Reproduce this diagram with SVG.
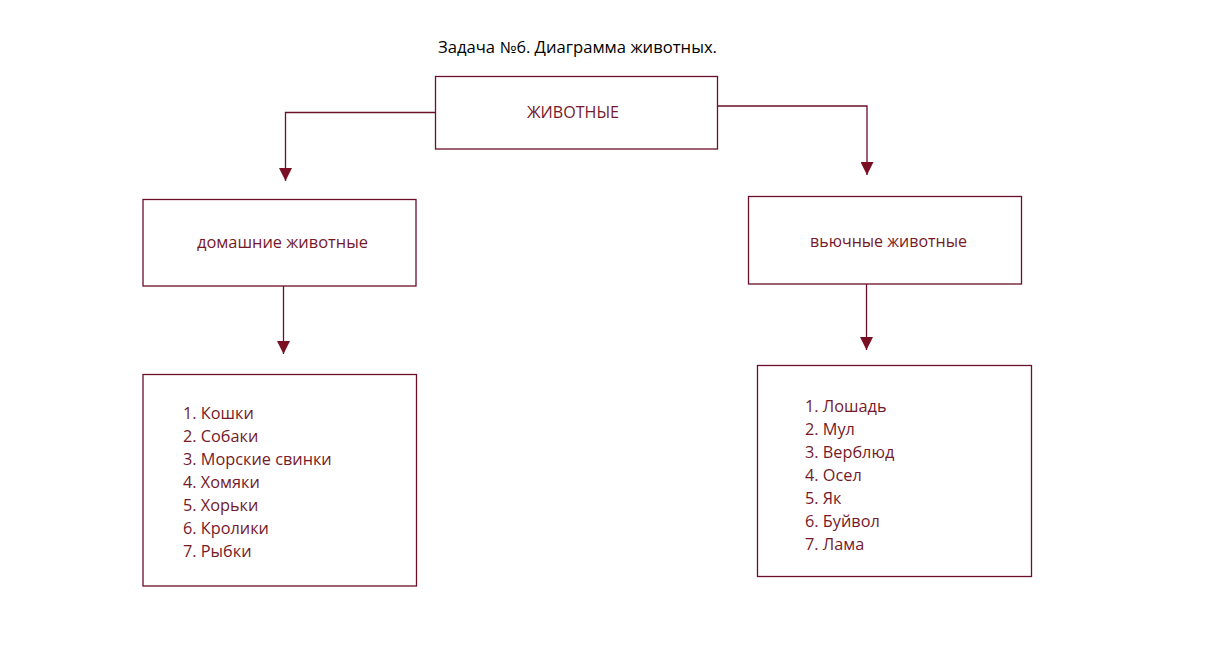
<svg xmlns="http://www.w3.org/2000/svg" width="1213" height="652" viewBox="0 0 1213 652">
<style>
.box{fill:#fff;stroke:#6a1028;stroke-width:1.3}
.conn{fill:none;stroke:#6a1028;stroke-width:1.3}
.t{font-family:"Open Sans","Noto Sans","Liberation Sans",sans-serif;font-size:15.5px;fill:#75192a}
.l{font-family:"Open Sans","Noto Sans","Liberation Sans",sans-serif;font-size:16.3px;fill:#75192a}
.title{font-family:"Open Sans","Noto Sans","Liberation Sans",sans-serif;font-size:15.5px;fill:#000}
</style>
<defs>
<marker id="tri" viewBox="0 0 13 13" refX="13" refY="6.5" markerWidth="13" markerHeight="13" markerUnits="userSpaceOnUse" orient="auto">
<path d="M0,0 L13,6.5 L0,13 Z" fill="#7a0f24"/>
</marker>
</defs>
<rect width="1213" height="652" fill="#fff"/>
<text class="title" x="438" y="52.5" textLength="279" lengthAdjust="spacingAndGlyphs">Задача №6. Диаграмма животных.</text>
<g id="connectors">
<path class="conn" d="M435,112.5 H285.5 V181" marker-end="url(#tri)"/>
<path class="conn" d="M717.5,106 H867 V175" marker-end="url(#tri)"/>
<path class="conn" d="M283.5,286 V354" marker-end="url(#tri)"/>
<path class="conn" d="M866.5,284 V350" marker-end="url(#tri)"/>
</g>
<g id="node-animals">
<rect class="box" x="435.5" y="76.5" width="282" height="72.5"/>
<text class="t" x="527" y="118" textLength="92" lengthAdjust="spacingAndGlyphs">ЖИВОТНЫЕ</text>
</g>
<g id="node-domestic">
<rect class="box" x="143" y="199.5" width="273" height="86.5"/>
<text class="t" x="197" y="247.5" textLength="171" lengthAdjust="spacingAndGlyphs">домашние животные</text>
</g>
<g id="node-pack">
<rect class="box" x="748.5" y="196.5" width="273" height="87.5"/>
<text class="t" x="810" y="246.5" textLength="157" lengthAdjust="spacingAndGlyphs">вьючные животные</text>
</g>
<g id="node-domestic-list">
<rect class="box" x="143" y="374.5" width="273.5" height="211.5"/>
<text class="l" x="183" y="419">1. Кошки</text>
<text class="l" x="183" y="442">2. Собаки</text>
<text class="l" x="183" y="465">3. Морские свинки</text>
<text class="l" x="183" y="488">4. Хомяки</text>
<text class="l" x="183" y="511">5. Хорьки</text>
<text class="l" x="183" y="534">6. Кролики</text>
<text class="l" x="183" y="557">7. Рыбки</text>
</g>
<g id="node-pack-list">
<rect class="box" x="757.5" y="365.5" width="274" height="211"/>
<text class="l" x="805" y="412">1. Лошадь</text>
<text class="l" x="805" y="435">2. Мул</text>
<text class="l" x="805" y="458">3. Верблюд</text>
<text class="l" x="805" y="481">4. Осел</text>
<text class="l" x="805" y="504">5. Як</text>
<text class="l" x="805" y="527">6. Буйвол</text>
<text class="l" x="805" y="550">7. Лама</text>
</g>
</svg>
